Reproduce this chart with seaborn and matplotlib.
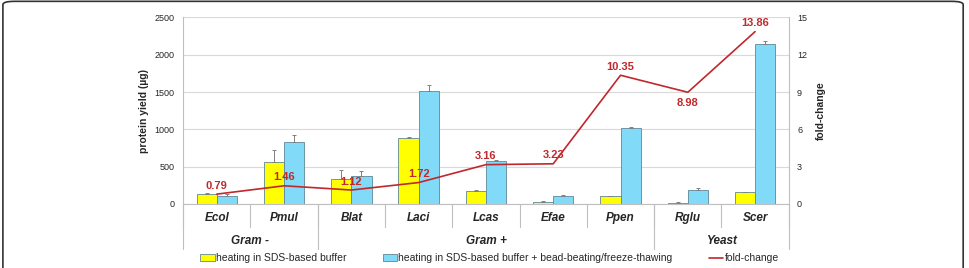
import numpy as np
import pandas as pd
import seaborn as sns
import matplotlib.pyplot as plt
from matplotlib.patches import FancyBboxPatch
import matplotlib.transforms as mtransforms

# 데이터
species = ['Ecol', 'Pmul', 'Blat', 'Laci', 'Lcas', 'Efae', 'Ppen', 'Rglu', 'Scer']
groups = ['Gram -', 'Gram +', 'Yeast']
group_sizes = [2, 5, 2]
heat = [130, 565, 335, 890, 180, 30, 100, 15, 160]
heat_err = [20, 155, 125, 5, 10, 8, 8, 5, 0]
bead = [100, 830, 380, 1520, 575, 105, 1020, 190, 2140]
bead_err = [30, 100, 60, 80, 10, 15, 5, 30, 50]
fold = [0.79, 1.46, 1.12, 1.72, 3.16, 3.23, 10.35, 8.98, 13.86]

lab_heat = 'heating in SDS-based buffer'
lab_bead = 'heating in SDS-based buffer + bead-beating/freeze-thawing'

df = pd.DataFrame({
    'species': species * 2,
    'method': [lab_heat] * len(species) + [lab_bead] * len(species),
    'yield': heat + bead,
    'err': heat_err + bead_err,
})

sns.set_style('white')
plt.rcParams['font.family'] = ['Liberation Sans', 'DejaVu Sans']

fig, ax = plt.subplots(figsize=(9.69, 2.68), dpi=100)
fig.subplots_adjust(left=0.189, right=0.814, top=0.935, bottom=0.239)

sns.barplot(data=df, x='species', y='yield', hue='method', order=species,
            hue_order=[lab_heat, lab_bead], palette=['#FFFF00', '#80DAF8'],
            saturation=1, width=0.6, edgecolor='#5F8797', linewidth=0.6,
            errorbar=None, ax=ax, legend=False)

# 오차 막대 (위쪽만)
for cont, errs in zip(ax.containers, [heat_err, bead_err]):
    xs = [p.get_x() + p.get_width() / 2 for p in cont.patches]
    ys = [p.get_height() for p in cont.patches]
    ax.errorbar(xs, ys, yerr=[np.zeros(len(errs)), errs], fmt='none',
                ecolor='#808080', elinewidth=0.7, capsize=1.5, capthick=0.7)

ax.set_ylim(0, 2500)
ax.set_yticks(range(0, 2501, 500))
ax.set_xlim(-0.5, len(species) - 0.5)
ax.yaxis.grid(True, color='#D9D9D9', linewidth=0.8)
ax.set_axisbelow(True)
ax.set_ylabel('protein yield (µg)', fontsize=7.5, fontweight='bold', labelpad=4)
ax.set_xlabel('')
ax.tick_params(axis='y', labelsize=6.5, length=0, pad=6)
ax.set_xticks(range(len(species)))
ax.set_xticklabels(species, fontsize=8.5, fontweight='bold', style='italic')
ax.tick_params(axis='x', length=0, pad=6)
for s in ['left', 'right', 'top', 'bottom']:
    ax.spines[s].set_color('#BFBFBF')
    ax.spines[s].set_linewidth(0.8)
ax.spines['top'].set_visible(False)

# 다단계 x축 구분선
trans = mtransforms.blended_transform_factory(ax.transData, ax.transAxes)
for i in range(len(species) + 1):
    ax.plot([i - 0.5, i - 0.5], [0, -0.125], transform=trans, color='#BFBFBF',
            linewidth=0.8, clip_on=False)
start = 0
for g, n in zip(groups, group_sizes):
    ax.plot([start - 0.5, start - 0.5], [0, -0.24], transform=trans,
            color='#BFBFBF', linewidth=0.8, clip_on=False)
    ax.text(start + n / 2 - 0.5, -0.2, g, transform=trans, ha='center',
            va='center', fontsize=8.5, fontweight='bold', style='italic')
    start += n
ax.plot([start - 0.5, start - 0.5], [0, -0.24], transform=trans,
        color='#BFBFBF', linewidth=0.8, clip_on=False)

# fold-change 축
ax2 = ax.twinx()
sns.lineplot(x=np.arange(len(species)), y=fold, ax=ax2, color='#C0282C',
             linewidth=1.2)
ax2.set_ylim(0, 15)
ax2.set_yticks(range(0, 16, 3))
ax2.tick_params(axis='y', labelsize=6.5, length=0, pad=6)
ax2.set_ylabel('fold-change', fontsize=7.5, fontweight='bold', labelpad=6)
for s in ['left', 'right', 'top', 'bottom']:
    ax2.spines[s].set_visible(False)
for i, v in enumerate(fold):
    below = species[i] == 'Rglu'
    ax2.annotate(f'{v:.2f}', (i, v), xytext=(0, -7.5 if below else 6),
                 textcoords='offset points', ha='center', va='center',
                 fontsize=8, fontweight='bold', color='#C0282C')

# 범례
h1 = plt.Rectangle((0, 0), 1, 1, facecolor='#FFFF00', edgecolor='#5F8797', linewidth=0.6)
h2 = plt.Rectangle((0, 0), 1, 1, facecolor='#80DAF8', edgecolor='#5F8797', linewidth=0.6)
h3 = plt.Line2D([0], [0], color='#C0282C', linewidth=1.2)
fig.legend([h1, h2, h3], [lab_heat, lab_bead, 'fold-change'], loc='center',
           bbox_to_anchor=(0.505, 0.037), ncol=3, frameon=False, fontsize=7.5,
           handlelength=1.4, handleheight=0.55, handletextpad=0.1,
           columnspacing=3.5)

# 둥근 테두리
frame = FancyBboxPatch((0.003, -0.1), 0.991, 1.095, transform=fig.transFigure,
                       boxstyle='round,pad=0,rounding_size=0.012',
                       facecolor='none', edgecolor='#333333', linewidth=1.2,
                       clip_on=False)
fig.patches.append(frame)

plt.savefig('out.png', dpi=100)
